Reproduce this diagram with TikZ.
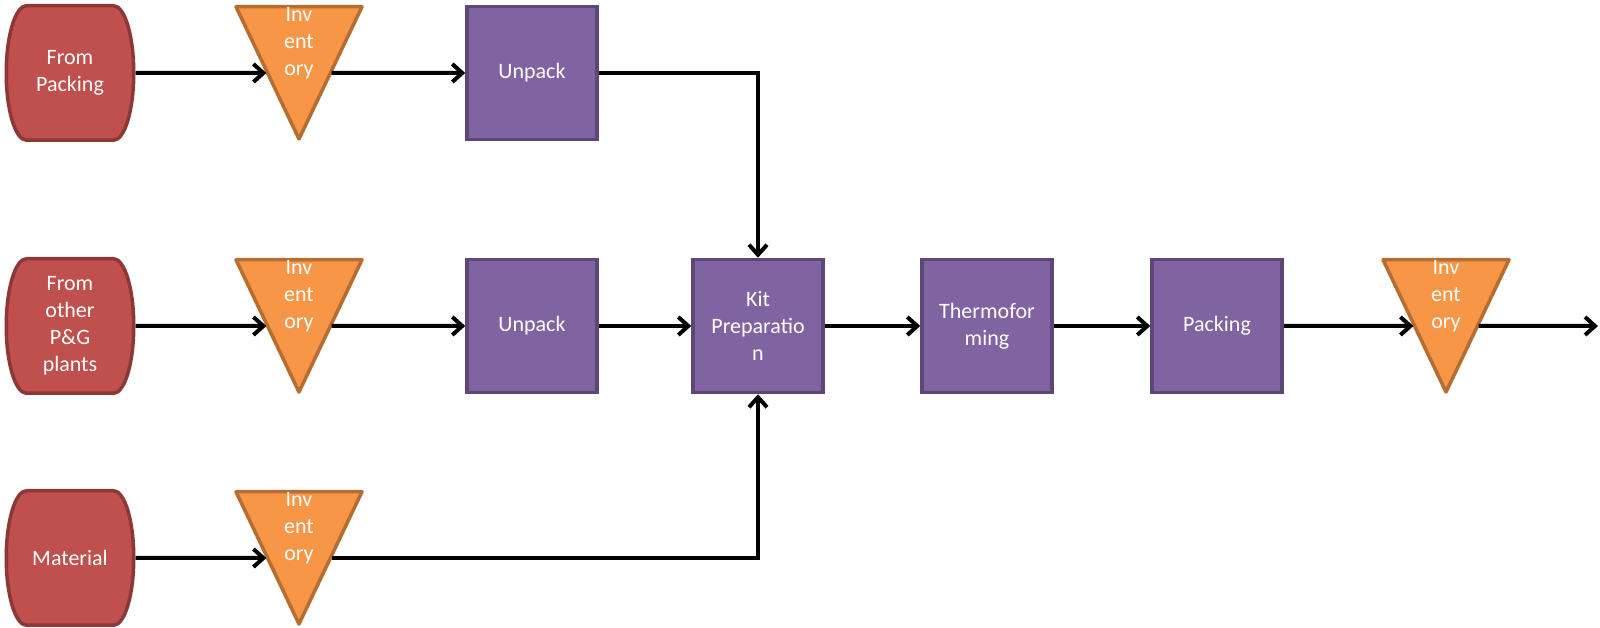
\documentclass[tikz,border=0pt]{standalone}
\usepackage{fontspec}
\setmainfont{Carlito}
\usepackage{xcolor}
\definecolor{srcred}{RGB}{192,80,77}
\definecolor{srcdark}{RGB}{140,56,54}
\definecolor{stockorange}{RGB}{247,150,70}
\definecolor{stockdark}{RGB}{182,109,49}
\definecolor{procpurple}{RGB}{128,100,162}
\definecolor{procdark}{RGB}{92,71,118}
\usepackage{tikz}
\usetikzlibrary{calc}
\usetikzlibrary{arrows.meta}
\tikzset{
    common/.style={inner sep=0pt, text=white, align=center, font=\fontsize{22}{27}\selectfont},
    src/.style={common, minimum width=131pt, minimum height=138pt,
        path picture={
            \filldraw[srcdark, fill=srcred, line width=3.5pt]
                ([xshift=22pt,yshift=-1.75pt]path picture bounding box.north west)
                -- ([xshift=-22pt,yshift=-1.75pt]path picture bounding box.north east)
                arc[start angle=90, end angle=-90, x radius=20.25pt, y radius=67.25pt]
                -- ([xshift=22pt,yshift=1.75pt]path picture bounding box.south west)
                arc[start angle=270, end angle=90, x radius=20.25pt, y radius=67.25pt]
                -- cycle;
        }},
    stock/.style={common, minimum width=130pt, text height=71pt, text depth=65pt,
        path picture={
            \filldraw[stockdark, fill=stockorange, line width=3.5pt, line join=round]
                ([xshift=2pt,yshift=-1.75pt]path picture bounding box.north west)
                -- ([xshift=-2pt,yshift=-1.75pt]path picture bounding box.north east)
                -- ([yshift=2pt]path picture bounding box.south)
                -- cycle;
        }},
    proc/.style={common, draw=procdark, fill=procpurple, line width=3.5pt, minimum width=130pt, minimum height=133pt},
    flow/.style={-{Straight Barb[length=10pt,width=18pt]}, line width=4pt, black}
}
\begin{document}
\begin{tikzpicture}[x=1pt, y=1pt]
    \useasboundingbox (0,0) rectangle (1600,628);
    \path
        (70,555) node[src] (src1) {From\\Packing}
        ++(229,0) node[stock] (inv1) {Inv\\ent\\ory}
        ++(233,0) node[proc] (unpack1) {Unpack};
    \path
        (70,302) node[src] (src2) {From\\other\\P\&G\\plants}
        ++(229,0) node[stock] (inv2) {Inv\\ent\\ory}
        ++(233,0) node[proc] (unpack2) {Unpack}
        ++(226,0) node[proc] (kit) {Kit\\Preparatio\\n}
        ++(229,0) node[proc] (thermo) {Thermofor\\ming}
        ++(230,0) node[proc] (packing) {Packing}
        ++(229,0) node[stock] (inv4) {Inv\\ent\\ory};
    \path
        (70,70) node[src] (src3) {Material}
        ++(229,0) node[stock] (inv3) {Inv\\ent\\ory};
    \coordinate (out) at (1598,302);

    % mid points of the slanted sides
    \foreach \n in {1,...,4} {
        \coordinate (inv\n-w) at ($(inv\n.north west)!0.5!(inv\n.south)$);
        \coordinate (inv\n-e) at ($(inv\n.north east)!0.5!(inv\n.south)$);
    }

    \draw[flow] (src1) -- (inv1-w);
    \draw[flow] (inv1-e) -- (unpack1);
    \draw[flow] (unpack1) -| (kit);
    \draw[flow] (src2) -- (inv2-w);
    \draw[flow] (inv2-e) -- (unpack2);
    \draw[flow] (unpack2) -- (kit);
    \draw[flow] (kit) -- (thermo);
    \draw[flow] (thermo) -- (packing);
    \draw[flow] (packing) -- (inv4-w);
    \draw[flow] (inv4-e) -- (out);
    \draw[flow] (src3) -- (inv3-w);
    \draw[flow] (inv3-e) -| (kit);
\end{tikzpicture}
\end{document}
